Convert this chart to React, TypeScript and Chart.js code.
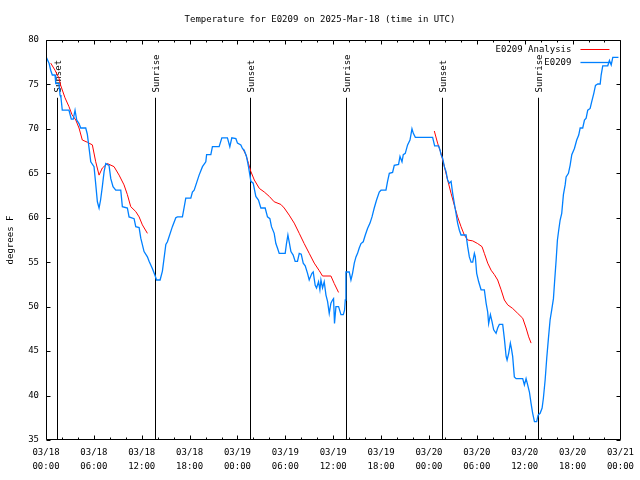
import React, { useEffect, useRef } from 'react';
import { Chart, registerables } from 'chart.js';

Chart.register(...registerables);

const TITLE = 'Temperature for E0209 on 2025-Mar-18 (time in UTC)';
const Y_LABEL = 'degrees F';
const SERIES_ANALYSIS = 'E0209 Analysis';
const SERIES_OBS = 'E0209';

// x axis: hours since 03/18 00:00 UTC
const X_TICK_HOURS = [0, 6, 12, 18, 24, 30, 36, 42, 48, 54, 60, 66, 72];
const X_TICK_DATES = ['03/18', '03/18', '03/18', '03/18', '03/19', '03/19', '03/19', '03/19', '03/20', '03/20', '03/20', '03/20', '03/21'];
const X_TICK_TIMES = ['00:00', '06:00', '12:00', '18:00', '00:00', '06:00', '12:00', '18:00', '00:00', '06:00', '12:00', '18:00', '00:00'];
const Y_TICKS = [35, 40, 45, 50, 55, 60, 65, 70, 75, 80];

// Observed temperature (E0209)
const obsHours = [
  0.04, 0.38, 0.59, 0.79, 1.13, 1.22, 1.63, 1.76, 1.88, 2.04, 2.88, 3.17, 3.42, 3.64, 3.85, 4.14, 4.35, 4.98, 5.18, 5.39,
  5.61, 6.02, 6.21, 6.44, 6.65, 6.84, 7.06, 7.28, 7.49, 7.90, 8.12, 8.40, 8.74, 9.37, 9.57, 10.20, 10.41, 11.04, 11.25, 11.67,
  11.88, 12.29, 12.71, 12.92, 13.33, 13.67, 13.86, 14.30, 14.59, 15.02, 15.22, 15.84, 16.27, 16.47, 17.10, 17.52, 18.15, 18.35, 18.57, 19.19,
  19.61, 20.03, 20.13, 20.66, 20.86, 21.70, 22.04, 22.74, 23.04, 23.29, 23.80, 24.00, 24.42, 24.62, 24.84, 25.13, 25.38, 25.68, 25.97, 26.30,
  26.63, 26.93, 27.47, 27.76, 28.06, 28.26, 28.60, 28.81, 29.01, 29.23, 29.98, 30.14, 30.32, 30.48, 30.70, 30.98, 31.23, 31.52, 31.74, 31.99,
  32.24, 32.49, 32.78, 32.99, 33.33, 33.49, 33.74, 33.91, 34.16, 34.33, 34.46, 34.66, 34.87, 35.09, 35.29, 35.50, 35.71, 35.91, 36.04, 36.16,
  36.34, 36.67, 36.97, 37.26, 37.42, 37.51, 37.59, 38.01, 38.22, 38.42, 38.64, 38.85, 39.05, 39.26, 39.48, 39.76, 40.02, 40.30, 40.61, 40.86,
  41.14, 41.43, 41.77, 41.99, 42.61, 42.81, 43.03, 43.44, 43.65, 44.19, 44.37, 44.62, 44.78, 45.03, 45.32, 45.62, 45.87, 46.04, 46.29, 48.46,
  48.71, 49.21, 49.39, 49.51, 49.71, 49.93, 50.14, 50.34, 50.55, 50.77, 50.97, 51.18, 51.39, 51.59, 51.81, 52.02, 52.65, 52.85, 53.06, 53.28,
  53.48, 53.69, 53.81, 53.98, 54.23, 54.53, 54.94, 55.16, 55.36, 55.48, 55.70, 55.91, 56.11, 56.41, 56.61, 56.82, 57.24, 57.45, 57.67, 57.79,
  57.99, 58.20, 58.33, 58.49, 58.70, 58.92, 59.75, 59.96, 60.17, 60.37, 60.59, 60.80, 61.00, 61.22, 61.50, 61.68, 61.93, 62.18, 62.34, 62.56,
  62.76, 62.97, 63.18, 63.38, 63.60, 63.76, 63.94, 64.10, 64.26, 64.44, 64.64, 64.85, 65.07, 65.19, 65.48, 65.69, 65.90, 66.23, 66.52, 66.77,
  66.95, 67.27, 67.49, 67.70, 67.90, 68.20, 68.40, 68.66, 68.87, 69.16, 69.46, 69.58, 69.78, 70.41, 70.62, 70.84, 71.04, 71.75,
];
const obsTemps = [
  78.05, 77.4, 76.6, 76.06, 76.06, 75.1, 75.1, 73.8, 73.5, 72.1, 72.1, 71.1, 71.1, 72.1, 71.0, 70.6, 70.1, 70.1, 69.4, 67.9,
  66.3, 65.75, 64.0, 61.8, 61.1, 62.0, 63.5, 65.2, 66.1, 65.9, 64.4, 63.5, 63.1, 63.1, 61.25, 61.1, 60.1, 59.9, 59.0, 58.9,
  57.7, 56.2, 55.6, 55.1, 54.3, 53.5, 53.0, 53.0, 54.0, 57.0, 57.3, 59.0, 60.0, 60.1, 60.1, 62.2, 62.2, 62.9, 63.1, 64.8,
  65.75, 66.3, 67.1, 67.1, 68.0, 68.0, 69.0, 69.0, 68.0, 69.0, 68.9, 68.4, 68.2, 67.8, 67.6, 66.9, 65.75, 64.1, 63.9, 62.4,
  62.0, 61.1, 61.1, 60.1, 59.9, 59.0, 58.25, 57.1, 56.6, 56.0, 56.0, 57.1, 58.06, 57.3, 56.2, 55.8, 55.1, 55.1, 56.0, 55.9,
  54.9, 54.6, 53.75, 53.0, 53.75, 53.9, 52.4, 52.1, 52.8, 51.9, 53.0, 52.1, 52.8, 51.3, 50.6, 49.25, 50.4, 50.75, 50.9, 48.1,
  50.0, 50.0, 49.1, 49.1, 49.6, 50.75, 53.9, 53.9, 53.0, 53.75, 54.9, 55.6, 56.0, 56.6, 57.1, 57.3, 58.06, 58.8, 59.4, 60.1,
  61.1, 62.0, 62.9, 63.1, 63.1, 64.1, 65.0, 65.1, 65.9, 66.0, 66.9, 66.3, 67.1, 67.25, 68.2, 68.75, 70.0, 69.5, 69.05, 69.05,
  68.1, 68.1, 67.6, 67.1, 66.7, 65.75, 65.2, 64.25, 63.9, 64.1, 62.75, 61.6, 60.5, 59.4, 58.6, 58.06, 58.06, 56.75, 55.6, 55.0,
  55.0, 56.0, 55.6, 53.75, 52.8, 51.9, 51.9, 50.4, 49.4, 48.1, 49.1, 48.3, 47.4, 47.0, 47.6, 48.0, 48.0, 46.4, 44.4, 44.0,
  44.75, 45.9, 45.3, 44.4, 42.1, 41.9, 41.9, 41.2, 41.9, 41.2, 40.4, 39.1, 38.0, 37.06, 37.06, 37.8, 38.0, 38.6, 39.7, 41.75,
  44.2, 46.4, 48.5, 49.6, 50.9, 53.0, 55.25, 57.5, 58.6, 59.75, 60.5, 62.6, 63.7, 64.6, 65.0, 65.9, 67.1, 67.8, 68.75, 69.3,
  70.1, 70.1, 71.0, 71.2, 72.1, 72.3, 73.06, 74.0, 74.9, 75.05, 75.05, 76.06, 77.1, 77.1, 77.7, 77.2, 78.05, 78.05,
];

// Analysis (three 12-hour runs, null separates them)
const anaHours = [
  0.59, 1.13, 1.63, 1.84, 2.38, 2.88, 3.26, 3.73, 4.14, 4.55, 5.18, 5.81, 6.23, 6.65, 7.06, 7.69, 8.53, 9.16, 9.78, 10.20,
  10.62, 11.25, 11.67, 12.08, 12.71, 12.72,
  24.71, 25.05, 25.38, 25.68, 26.11, 26.74, 27.36, 27.99, 28.60, 29.44, 29.86, 30.48, 31.11, 31.74, 32.36, 32.99, 33.62, 34.25,
  34.66, 35.71, 36.13, 36.67, 36.68,
  48.67, 49.08, 49.51, 49.93, 50.34, 50.77, 51.18, 51.59, 52.02, 52.43, 52.85, 53.48, 54.10, 54.65, 54.94, 55.36, 55.79, 56.20,
  56.61, 57.04, 57.45, 57.87, 58.49, 59.12, 59.75, 60.17, 60.50, 60.80,
];
const anaTemps = [
  77.4, 76.6, 75.7, 74.9, 73.5, 72.5, 71.6, 71.0, 70.1, 68.75, 68.5, 68.2, 66.3, 64.8, 65.6, 66.1, 65.75, 64.8, 63.7, 62.6,
  61.25, 60.7, 60.1, 59.2, 58.25, null,
  67.7, 67.1, 66.1, 65.2, 64.25, 63.3, 62.9, 62.4, 61.8, 61.5, 61.1, 60.3, 59.4, 58.25, 57.1, 56.0, 54.9, 54.05,
  53.45, 53.45, 52.6, 51.6, null,
  69.76, 68.4, 67.25, 65.75, 64.25, 62.75, 61.4, 60.1, 59.0, 58.06, 57.5, 57.4, 57.1, 56.75, 56.0, 54.9, 54.1, 53.6,
  53.0, 51.9, 50.75, 50.2, 49.8, 49.25, 48.7, 47.6, 46.6, 45.9,
];

// Sunset / sunrise markers
const sunHours = [1.42, 13.64, 25.55, 37.57, 49.59, 61.63];
const sunLabels = ['Sunset', 'Sunrise', 'Sunset', 'Sunrise', 'Sunset', 'Sunrise'];
const SUN_LINE_TOP = 73.5;
const SUN_LABEL_START = 74.1;

const FONT = "'DejaVu Sans Mono', monospace";
const RED = '#ff0000';
const BLUE = '#0080ff';

const decorPlugin = {
  id: 'decor',
  beforeDatasetsDraw(chart: any) {
    const { ctx, chartArea } = chart;
    const xs = chart.scales.x;
    const ys = chart.scales.y;
    ctx.save();
    ctx.strokeStyle = '#000';
    ctx.lineWidth = 1;
    const yTop = ys.getPixelForValue(SUN_LINE_TOP);
    const yLab = ys.getPixelForValue(SUN_LABEL_START);
    sunHours.forEach((h, i) => {
      const px = Math.round(xs.getPixelForValue(h)) + 0.5;
      ctx.beginPath();
      ctx.moveTo(px, yTop);
      ctx.lineTo(px, chartArea.bottom);
      ctx.stroke();
      ctx.save();
      ctx.translate(px + 1.5, yLab);
      ctx.rotate(-Math.PI / 2);
      ctx.fillStyle = '#000';
      ctx.font = `9px ${FONT}`;
      ctx.textAlign = 'left';
      ctx.textBaseline = 'middle';
      ctx.fillText(sunLabels[i], 0, 0);
      ctx.restore();
    });
    ctx.restore();
  },
  afterDraw(chart: any) {
    const { ctx, chartArea } = chart;
    const xs = chart.scales.x;
    const ys = chart.scales.y;
    const L = Math.round(chartArea.left) + 0.5;
    const R = Math.round(chartArea.right) + 0.5;
    const T = Math.round(chartArea.top) + 0.5;
    const B = Math.round(chartArea.bottom) - 0.5;
    ctx.save();
    ctx.strokeStyle = '#000';
    ctx.lineWidth = 1;
    ctx.beginPath();
    ctx.rect(L, T, R - L, B - T);
    ctx.stroke();
    // x ticks (inward, bottom and top)
    ctx.beginPath();
    for (let h = 0; h <= 72; h += 2) {
      const px = Math.round(xs.getPixelForValue(h)) + 0.5;
      const len = h % 6 === 0 ? 4 : 2;
      ctx.moveTo(px, B);
      ctx.lineTo(px, B - len);
      ctx.moveTo(px, T);
      ctx.lineTo(px, T + len);
    }
    Y_TICKS.forEach((v) => {
      const py = Math.round(ys.getPixelForValue(v)) + 0.5;
      ctx.moveTo(L, py);
      ctx.lineTo(L + 4, py);
      ctx.moveTo(R, py);
      ctx.lineTo(R - 4, py);
    });
    ctx.stroke();

    ctx.fillStyle = '#000';
    ctx.font = `9px ${FONT}`;
    // title
    ctx.textAlign = 'center';
    ctx.textBaseline = 'middle';
    ctx.fillText(TITLE, 320, 20);
    // y label
    ctx.save();
    ctx.translate(11, (chartArea.top + chartArea.bottom) / 2);
    ctx.rotate(-Math.PI / 2);
    ctx.fillText(Y_LABEL, 0, 0);
    ctx.restore();
    // legend
    const lgRight = chartArea.right - 49;
    ctx.textAlign = 'right';
    ctx.fillText(SERIES_ANALYSIS, lgRight, 50);
    ctx.fillText(SERIES_OBS, lgRight, 63);
    ctx.strokeStyle = RED;
    ctx.beginPath();
    ctx.moveTo(lgRight + 9, 49.5);
    ctx.lineTo(lgRight + 38, 49.5);
    ctx.stroke();
    ctx.strokeStyle = BLUE;
    ctx.lineWidth = 1.3;
    ctx.beginPath();
    ctx.moveTo(lgRight + 9, 62.5);
    ctx.lineTo(lgRight + 38, 62.5);
    ctx.stroke();
    ctx.restore();
  },
};

export default function App() {
  const ref = useRef<HTMLCanvasElement>(null);
  useEffect(() => {
    const canvas = ref.current;
    if (!canvas) return;
    const chart = new Chart(canvas, {
      type: 'line',
      data: {
        datasets: [
          {
            label: SERIES_ANALYSIS,
            data: anaHours.map((h, i) => ({ x: h, y: anaTemps[i] })) as any,
            borderColor: RED,
            borderWidth: 1,
            pointRadius: 0,
            spanGaps: false,
            tension: 0,
            order: 1,
          },
          {
            label: SERIES_OBS,
            data: obsHours.map((h, i) => ({ x: h, y: obsTemps[i] })),
            borderColor: BLUE,
            borderWidth: 1.3,
            pointRadius: 0,
            tension: 0,
            order: 0,
          },
        ],
      },
      options: {
        responsive: false,
        animation: false,
        devicePixelRatio: 1,
        layout: { padding: { top: 40, right: 19, left: 0, bottom: 0 } },
        plugins: {
          legend: { display: false },
          tooltip: { enabled: false },
          title: { display: false },
        },
        scales: {
          x: {
            type: 'linear',
            min: 0,
            max: 72,
            afterFit: (s: any) => { s.height = 40; },
            afterBuildTicks: (s: any) => { s.ticks = X_TICK_HOURS.map((v) => ({ value: v })); },
            ticks: {
              autoSkip: false,
              maxRotation: 0,
              minRotation: 0,
              padding: 6,
              color: '#000',
              font: { family: FONT, size: 9, lineHeight: 1.5 },
              callback: (v: any) => {
                const i = X_TICK_HOURS.indexOf(Number(v));
                return i >= 0 ? [X_TICK_DATES[i], X_TICK_TIMES[i]] : '';
              },
            },
            grid: { display: false, drawTicks: false },
            border: { display: false },
          },
          y: {
            type: 'linear',
            min: 35,
            max: 80,
            afterFit: (s: any) => { s.width = 46; },
            afterBuildTicks: (s: any) => { s.ticks = Y_TICKS.map((v) => ({ value: v })); },
            ticks: {
              padding: 7,
              color: '#000',
              font: { family: FONT, size: 9 },
              callback: (v: any) => String(v),
            },
            grid: { display: false, drawTicks: false },
            border: { display: false },
          },
        },
      },
      plugins: [decorPlugin],
    });
    return () => chart.destroy();
  }, []);
  return (
    <div style={{ position: 'absolute', left: 0, top: 0, width: 640, height: 480, background: '#fff' }}>
      <canvas ref={ref} width={640} height={480} style={{ display: 'block' }} />
    </div>
  );
}
